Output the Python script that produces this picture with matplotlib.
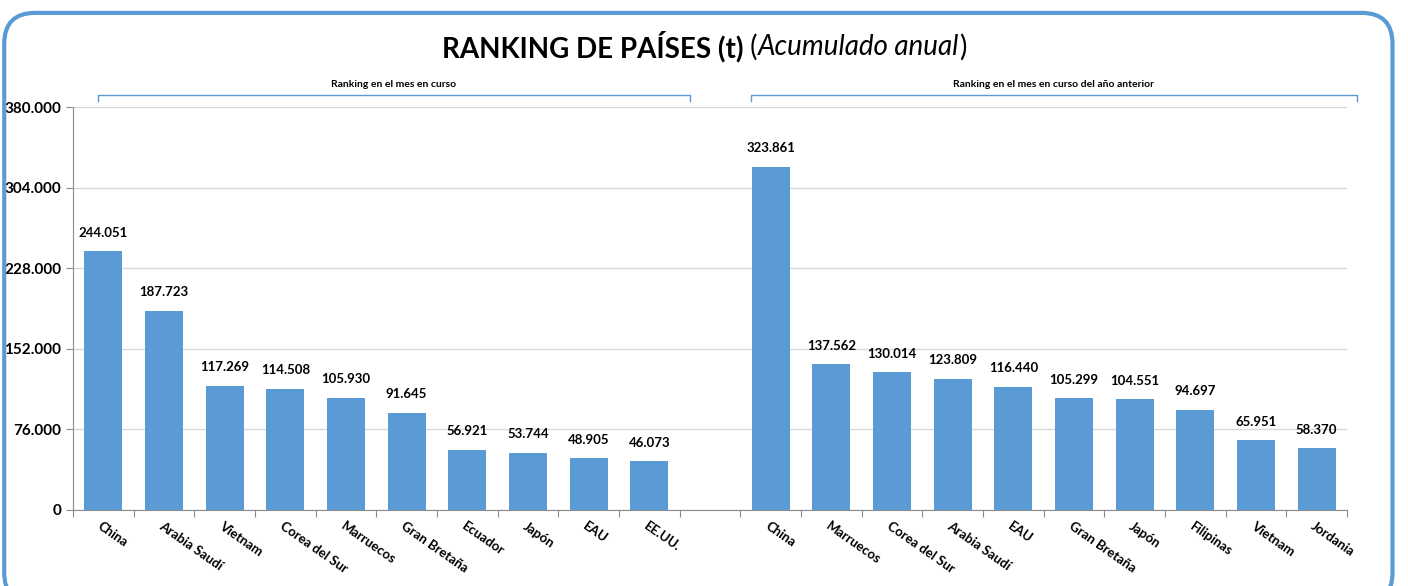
import numpy as np
import matplotlib.pyplot as plt
from matplotlib.patches import FancyBboxPatch
import matplotlib.transforms as mtransforms

plt.rcParams['font.family'] = ['Lato', 'DejaVu Sans']

# data
paises_act = ["China", "Arabia Saudí", "Vietnam", "Corea del Sur", "Marruecos",
              "Gran Bretaña", "Ecuador", "Japón", "EAU", "EE.UU."]
valores_act = [244051, 187723, 117269, 114508, 105930, 91645, 56921, 53744, 48905, 46073]
paises_ant = ["China", "Marruecos", "Corea del Sur", "Arabia Saudí", "EAU",
              "Gran Bretaña", "Japón", "Filipinas", "Vietnam", "Jordania"]
valores_ant = [323861, 137562, 130014, 123809, 116440, 105299, 104551, 94697, 65951, 58370]
yticks = [0, 76000, 152000, 228000, 304000, 380000]

azul = "#5B9BD5"

def fmt(v):
    return f"{v:,}".replace(",", ".")

fig = plt.figure(figsize=(14.08, 5.86), dpi=100)
ax = fig.add_axes([0.0518, 0.1297, 0.9049, 0.6877])

x_act = np.arange(len(valores_act))
x_ant = np.arange(len(valores_ant)) + len(valores_act) + 1
xs = np.concatenate([x_act, x_ant])
vals = valores_act + valores_ant
labels = paises_act + paises_ant

bars = ax.bar(xs, vals, width=0.63, color=azul, zorder=3)
for b, v in zip(bars, vals):
    ax.annotate(fmt(v), (b.get_x() + b.get_width() / 2, v), xytext=(0, 9),
                textcoords="offset points", ha="center", va="bottom",
                fontsize=9.5, fontweight="bold")

n = len(valores_act) + len(valores_ant) + 1
ax.set_xlim(-0.5, n - 0.5)
ax.set_ylim(0, 380000)
ax.set_yticks(yticks)
ax.set_yticklabels([fmt(t) for t in yticks], fontsize=11, fontweight="bold")
ax.yaxis.grid(True, color="#D9D9D9", linewidth=1, zorder=0)

ax.set_xticks(np.arange(n + 1) - 0.5)
ax.set_xticklabels([])
ax.tick_params(axis="x", length=5, color="#8C8C8C")
ax.tick_params(axis="y", length=5, color="#8C8C8C")
for s in ["top", "right"]:
    ax.spines[s].set_visible(False)
for s in ["left", "bottom"]:
    ax.spines[s].set_color("#8C8C8C")

trans_lab = mtransforms.offset_copy(ax.get_xaxis_transform(), fig=fig, x=-4, y=-15, units="dots")
for x, lab in zip(xs, labels):
    ax.text(x, 0, lab, transform=trans_lab, rotation=-35, rotation_mode="anchor",
            ha="left", va="center", fontsize=9.5, fontweight="bold")

# brackets
bt = ax.get_xaxis_transform()
for x0, x1, txt in [(-0.09, 9.67, "Ranking en el mes en curso"),
                    (10.68, 20.66, "Ranking en el mes en curso del año anterior")]:
    ax.plot([x0, x0, x1, x1], [1.015, 1.030, 1.030, 1.015], transform=bt,
            color=azul, linewidth=1, clip_on=False)
    ax.text((x0 + x1) / 2, 1.045, txt, transform=bt, ha="center", va="bottom",
            fontsize=7.5, fontweight="bold")

# title in pieces
fig.canvas.draw()
r = fig.canvas.get_renderer()
partes = [("RANKING DE PAÍSES (t)", "bold", "normal"), (" (", "normal", "normal"),
          ("Acumulado anual", "normal", "italic"), (")", "normal", "normal")]
objs = []
for txt, w, st in partes:
    objs.append(fig.text(0, 0.92, txt, fontsize=20, fontweight=w, fontstyle=st,
                         va="center", ha="left"))
anchos = [o.get_window_extent(r).width for o in objs]
total = sum(anchos)
xpos = fig.bbox.width / 2 - total / 2
for o, w in zip(objs, anchos):
    o.set_x(xpos / fig.bbox.width)
    xpos += w

borde = FancyBboxPatch((0.003, -0.03), 0.986, 1.008, transform=fig.transFigure,
                       boxstyle="round,pad=0,rounding_size=0.022", mutation_aspect=2.4,
                       facecolor="none", edgecolor=azul, linewidth=3)
fig.patches.append(borde)

fig.savefig("out.png", dpi=100)
